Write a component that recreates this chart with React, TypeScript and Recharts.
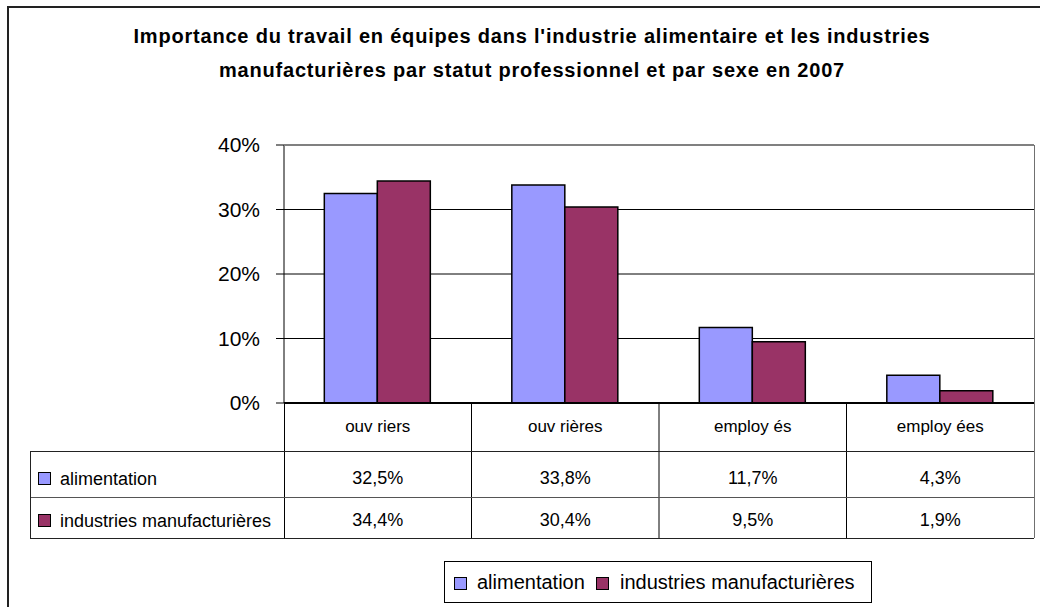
import { BarChart, Bar, XAxis, YAxis, CartesianGrid } from "recharts";

document.body.style.margin = "0";

const categories = ["ouv riers", "ouv rières", "employ és", "employ ées"];
const alimentation = [32.5, 33.8, 11.7, 4.3];
const manufacturieres = [34.4, 30.4, 9.5, 1.9];
const seriesNames = ["alimentation", "industries manufacturières"];
const seriesColors = ["#9999FF", "#993366"];
const yTicks = [0, 10, 20, 30, 40];

const data = categories.map((c, i) => ({
  name: c,
  alimentation: alimentation[i],
  manufacturieres: manufacturieres[i],
}));

const FONT = "'Liberation Sans', Arial, sans-serif";
const W = 1040;
const H = 607;
const PLOT_L = 284;
const PLOT_R = 1034;
const PLOT_T = 145;
const PLOT_B = 403;
const BAND = (PLOT_R - PLOT_L) / categories.length;

const fmt = (v: number) => v.toFixed(1).replace(".", ",") + "%";

function TableTick(props: any) {
  const { x, payload } = props;
  const i = categories.indexOf(payload.value);
  return (
    <g fontFamily={FONT} fill="#000">
      <text x={x} y={432} textAnchor="middle" fontSize={17}>
        {payload.value}
      </text>
      <text x={x} y={484} textAnchor="middle" fontSize={18}>
        {fmt(alimentation[i])}
      </text>
      <text x={x} y={526} textAnchor="middle" fontSize={18}>
        {fmt(manufacturieres[i])}
      </text>
    </g>
  );
}

function Overlay() {
  return (
    <svg
      width={W}
      height={H}
      style={{ position: "absolute", left: 0, top: 0, pointerEvents: "none" }}
      fontFamily={FONT}
    >
      {/* outer frame */}
      <rect x={8} y={7} width={1100} height={700} fill="none" stroke="#222" strokeWidth={2} />

      {/* title */}
      <text x={532} y={43} textAnchor="middle" fontSize={20} fontWeight="bold" letterSpacing={0.8}>
        Importance du travail en équipes dans l'industrie alimentaire et les industries
      </text>
      <text x={532} y={77} textAnchor="middle" fontSize={20} fontWeight="bold" letterSpacing={0.8}>
        manufacturières par statut professionnel et par sexe en 2007
      </text>

      {/* plot border */}
      <line x1={PLOT_L} x2={PLOT_R} y1={PLOT_T + 0.5} y2={PLOT_T + 0.5} stroke="#808080" />
      <line x1={PLOT_R + 0.5} x2={PLOT_R + 0.5} y1={PLOT_T} y2={538} stroke="#707070" />

      {/* data table grid */}
      <line x1={PLOT_L + 0.5} x2={PLOT_L + 0.5} y1={PLOT_B} y2={538} stroke="#000" />
      {categories.slice(1).map((c, i) => (
        <line
          key={c}
          x1={PLOT_L + BAND * (i + 1)}
          x2={PLOT_L + BAND * (i + 1)}
          y1={PLOT_B}
          y2={538}
          stroke="#000"
        />
      ))}
      <line x1={30} x2={PLOT_R} y1={451.5} y2={451.5} stroke="#222" />
      <line x1={30} x2={PLOT_R} y1={497.5} y2={497.5} stroke="#555" />
      <line x1={30} x2={PLOT_R} y1={538.5} y2={538.5} stroke="#222" />
      <line x1={30.5} x2={30.5} y1={451} y2={538} stroke="#222" />

      {/* table row labels */}
      {seriesNames.map((s, i) => (
        <g key={s}>
          <rect x={38.5} y={472.5 + i * 42} width={12} height={12} fill={seriesColors[i]} stroke="#000" />
          <text x={60} y={485 + i * 42} fontSize={18}>
            {s}
          </text>
        </g>
      ))}

      {/* legend */}
      <rect x={444.5} y={561.5} width={427} height={41} fill="#fff" stroke="#000" />
      <rect x={454.5} y={577.5} width={12} height={12} fill={seriesColors[0]} stroke="#000" />
      <text x={477} y={589} fontSize={20}>
        {seriesNames[0]}
      </text>
      <rect x={596.5} y={577.5} width={12} height={12} fill={seriesColors[1]} stroke="#000" />
      <text x={620} y={589} fontSize={20}>
        {seriesNames[1]}
      </text>
    </svg>
  );
}

export default function App() {
  return (
    <div style={{ position: "relative", width: W, height: H, background: "#fff" }}>
      <BarChart
        width={W}
        height={H}
        data={data}
        margin={{ top: PLOT_T, left: PLOT_L - 60, right: W - PLOT_R, bottom: 54 }}
        barCategoryGap="21.5%"
        barGap={0}
      >
        <CartesianGrid vertical={false} stroke="#000" />
        <YAxis
          width={60}
          domain={[0, 40]}
          ticks={yTicks}
          interval={0}
          tickFormatter={(v: number) => `${v}%`}
          tickSize={8}
          tickMargin={16}
          axisLine={{ stroke: "#000" }}
          tickLine={{ stroke: "#000" }}
          tick={{ fill: "#000", fontSize: 21, fontFamily: FONT }}
        />
        <XAxis
          dataKey="name"
          height={150}
          interval={0}
          axisLine={{ stroke: "#000", strokeWidth: 2 }}
          tickLine={false}
          tick={<TableTick />}
        />
        <Bar
          dataKey="alimentation"
          name={seriesNames[0]}
          fill={seriesColors[0]}
          stroke="#000"
          strokeWidth={1.5}
          isAnimationActive={false}
        />
        <Bar
          dataKey="manufacturieres"
          name={seriesNames[1]}
          fill={seriesColors[1]}
          stroke="#000"
          strokeWidth={1.5}
          isAnimationActive={false}
        />
      </BarChart>
      <Overlay />
    </div>
  );
}
